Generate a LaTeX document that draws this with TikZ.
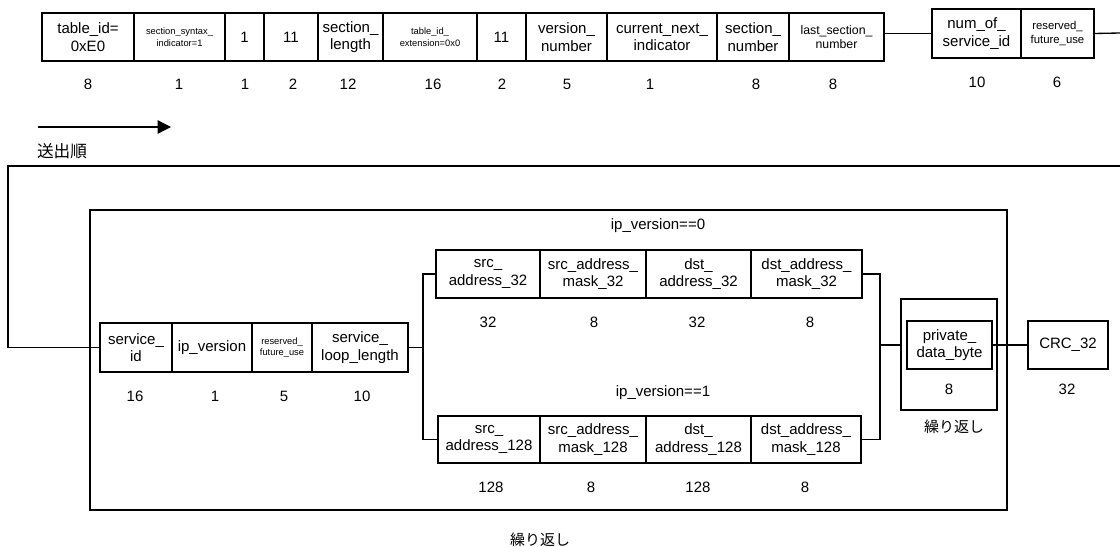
\documentclass[tikz,border=0pt]{standalone}
\usepackage{fontspec}
\setmainfont{Liberation Sans}
\newfontfamily\jpfont{Noto Sans CJK JP}
\usetikzlibrary{arrows.meta}
\newcommand\fld[7]{%
  \node[fbox,#6,minimum width={(#4-#2)*0.75pt},minimum height={(#5-#3)*0.75pt}]
    (#1) at ({(#2+#4)/2},{(#3+#5)/2}) {#7};}
\tikzset{
  fbox/.style={draw,line width=1pt,inner sep=0pt,outer sep=0pt,align=center,
    font=\fontsize{11.25}{13}\selectfont},
  tiny/.style={font=\fontsize{7}{8.5}\selectfont},
  mid/.style={font=\fontsize{8.5}{10}\selectfont},
  midb/.style={font=\fontsize{9.25}{11}\selectfont},
  num/.style={inner sep=0pt,font=\fontsize{11.25}{13}\selectfont},
  jp/.style={inner sep=0pt,font=\jpfont\fontsize{11.25}{13}\selectfont},
  conn/.style={line width=1pt},
}
\begin{document}
\begin{tikzpicture}[x=0.75pt,y=-0.75pt]
\useasboundingbox (0,0) rectangle (1120,546);
% top row
\fld{a1}{42}{13}{134}{61}{}{table\_id=\\0xE0}
\fld{a2}{134}{13}{225}{61}{tiny}{section\_syntax\_\\indicator=1}
\fld{a3}{225}{13}{264}{61}{}{1}
\fld{a4}{264}{13}{318}{61}{}{11}
\fld{a5}{318}{13}{383}{61}{}{section\_\\length}
\fld{a6}{383}{13}{477}{61}{tiny}{table\_id\_\\extension=0x0}
\fld{a7}{477}{13}{526}{61}{}{11}
\fld{a8}{526}{13}{607}{61}{}{version\_\\number}
\fld{a9}{607}{13}{717}{61}{}{current\_next\_\\indicator}
\fld{a10}{717}{13}{789}{61}{}{section\_\\number}
\fld{a11}{789}{13}{884}{61}{midb}{last\_section\_\\number}
\fld{b1}{932}{9}{1021}{58}{}{num\_of\_\\service\_id}
\fld{b2}{1021}{9}{1094}{58}{mid}{reserved\_\\future\_use}
\coordinate (rt) at (1120,33);
\draw[conn] (a11.east |- b1.west) -- (b1.west);
\draw[conn] (b2.east) -- (rt);
% top numbers
\node[num] (n1) at (88,84) {8};
\node[num] (n2) at (179,84) {1};
\node[num] (n3) at (245,84) {1};
\node[num] (n4) at (293,84) {2};
\node[num] (n5) at (348,84) {12};
\node[num] (n6) at (433,84) {16};
\node[num] (n7) at (502,84) {2};
\node[num] (n8) at (567,84) {5};
\node[num] (n9) at (650,84) {1};
\node[num] (n10) at (756,84) {8};
\node[num] (n11) at (833,84) {8};
\node[num] (n12) at (977,82) {10};
\node[num] (n13) at (1057,82) {6};
% transmission order arrow
\coordinate (s1) at (38,127);
\coordinate (s2) at (171,127);
\draw[conn,-{Triangle[length=10pt,width=10pt]}] (s1) -- (s2);
\node[jp,font=\jpfont\fontsize{12.5}{14}\selectfont] (order) at (62,151) {送出順};
% big loop box
\fld{loop}{90}{210}{1007}{510}{}{}
\node[jp] (rep1) at (540,540) {繰り返し};
% service row
\fld{c1}{100}{323}{172}{372}{}{service\_\\id}
\fld{c2}{172}{323}{252}{372}{}{ip\_version}
\fld{c3}{252}{323}{312}{372}{tiny}{reserved\_\\future\_use}
\fld{c4}{312}{323}{408}{372}{}{service\_\\loop\_length}
\coordinate (r2) at (1120,166);
\coordinate (l1) at (8,166);
\draw[conn] (r2) -- (l1) |- (c1.west);
\node[num] (m1) at (135,396) {16};
\node[num] (m2) at (215,396) {1};
\node[num] (m3) at (284,396) {5};
\node[num] (m4) at (362,396) {10};
% ip_version==0
\node[num] (v0) at (658,226) {ip\_version==0};
\fld{d1}{436}{250}{540}{298}{}{src\_\\address\_32}
\fld{d2}{540}{250}{646}{298}{}{src\_address\_\\mask\_32}
\fld{d3}{646}{250}{751}{298}{}{dst\_\\address\_32}
\fld{d4}{751}{250}{862}{298}{}{dst\_address\_\\mask\_32}
\node[num] (k1) at (488,322) {32};
\node[num] (k2) at (594,322) {8};
\node[num] (k3) at (697,322) {32};
\node[num] (k4) at (810,322) {8};
% ip_version==1
\node[num] (v1) at (663,393) {ip\_version==1};
\fld{e1}{438}{416}{540}{463}{}{src\_\\address\_128}
\fld{e2}{540}{416}{646}{463}{}{src\_address\_\\mask\_128}
\fld{e3}{646}{416}{751}{463}{}{dst\_\\address\_128}
\fld{e4}{751}{416}{861}{463}{}{dst\_address\_\\mask\_128}
\node[num] (g1) at (491,487) {128};
\node[num] (g2) at (591,487) {8};
\node[num] (g3) at (698,487) {128};
\node[num] (g4) at (805,487) {8};
% junctions
\coordinate (j1) at (423,346);
\draw[conn] (c4.east) -- (c4.east -| j1);
\draw[conn] (d1.west) -| (j1) |- (e1.west);
\coordinate (j2) at (880,345);
\draw[conn] (d4.east) -| (j2) |- (e4.east);
% private data
\fld{p}{901}{299}{997}{410}{}{}
\fld{q}{907}{321}{992}{369}{}{private\_\\data\_byte}
\node[num] (pn) at (949,389) {8};
\node[jp] (rep2) at (954,427) {繰り返し};
\draw[conn] (j2) -- (j2 -| p.west);
\fld{crc}{1028}{321}{1108}{369}{}{CRC\_32}
\node[num] (cn) at (1067,389) {32};
\draw[conn] (q.east) -- (crc.west);
\end{tikzpicture}
\end{document}
